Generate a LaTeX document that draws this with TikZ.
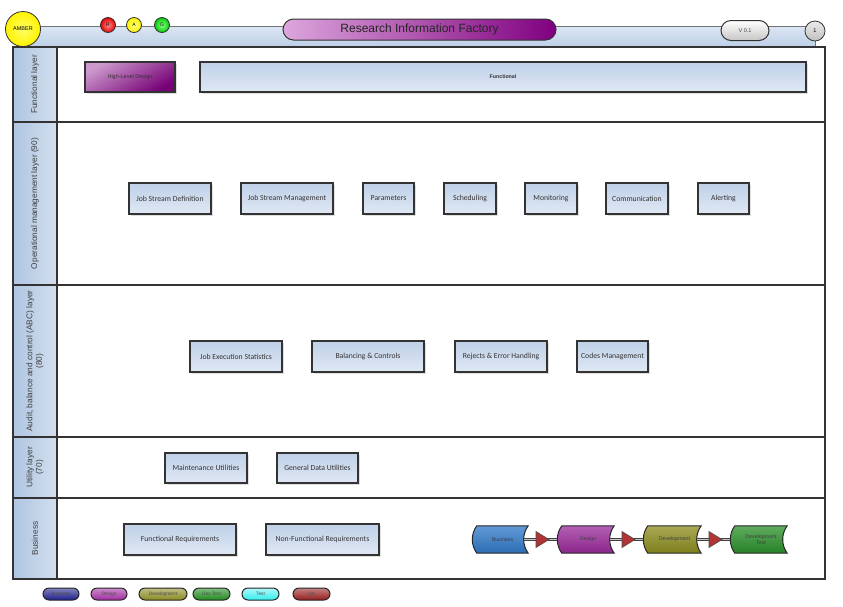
\documentclass[tikz,border=0pt]{standalone}
\usepackage{fontspec}
\setmainfont{Liberation Sans}
\newfontfamily\boxfont{Carlito}
\usepackage{xcolor}
\usepackage{tikz}
\usetikzlibrary{shapes,arrows,positioning,shadows,backgrounds,calc}

\definecolor{boxtop}{HTML}{BFD0E8}
\definecolor{boxbot}{HTML}{E0E8F4}
\definecolor{lanel}{HTML}{AFC5E1}
\definecolor{laner}{HTML}{D3DFEE}
\definecolor{bandtop}{HTML}{DCE6F3}
\definecolor{bandbot}{HTML}{BCCFE7}
\definecolor{plum}{HTML}{800080}
\definecolor{plumlight}{HTML}{DCA6DC}
\definecolor{arrred}{HTML}{B03434}
\definecolor{stbus}{HTML}{2F78C8}
\definecolor{stdes}{HTML}{9A2A9A}
\definecolor{stdev}{HTML}{8C8C1E}
\definecolor{stdvt}{HTML}{2A902A}
\definecolor{lgbus}{HTML}{1E1E8C}
\definecolor{lgdes}{HTML}{A02CA0}
\definecolor{lgdev}{HTML}{8A8A22}
\definecolor{lgdvt}{HTML}{1F8A1F}
\definecolor{lgtst}{HTML}{33EEEE}
\definecolor{lgqa}{HTML}{951C1C}

\begin{document}
\begin{tikzpicture}[x=1pt, y=-1pt,
      box/.style={draw=black!80, line width=1.3pt, top color=boxtop, bottom color=boxbot,
        minimum height=31pt, inner sep=1pt, text=black!80,
        font=\boxfont\fontsize{7.7}{9}\selectfont,
        drop shadow={opacity=0.25, shadow xshift=2pt, shadow yshift=-2pt}},
      lanelabel/.style={rotate=90, align=center, text=black!75, font=\fontsize{8.3}{9.5}\selectfont},
      frame/.style={draw=black!80, line width=1.3pt},
      dot/.style={circle, draw=black!80, line width=0.8pt, inner sep=0pt, font=\fontsize{5}{6}\selectfont},
      pill/.style={rounded rectangle, draw=black!80, line width=1pt, inner sep=1pt},
      stage/.style={minimum height=27pt, inner sep=0pt, align=center, text=black!75,
        font=\fontsize{5.3}{6}\selectfont},
      stageline/.style={draw=black!85, line width=1pt},
      link/.style={draw=black!75, line width=0.6pt, double=gray!45, double distance=1.2pt},
      tri/.style={isosceles triangle, isosceles triangle apex angle=64, isosceles triangle stretches,
        minimum width=16pt, minimum height=13pt, inner sep=0pt, fill=arrred, draw=black!70, line width=0.6pt},
      legend/.style={rounded rectangle, draw=black!85, line width=1pt, minimum height=12pt,
        inner sep=0pt, text=black!70, font=\fontsize{4.8}{5}\selectfont}
    ]
    \useasboundingbox (0,0) rectangle (843,606);

    % top bar
    \draw[draw=black!55, line width=0.8pt, top color=bandtop, bottom color=bandbot] (23,26) rectangle (815,47);
    \node[dot, minimum size=35pt, inner color=yellow!60, outer color=yellow!90!orange, font=\fontsize{5.5}{6}\selectfont] (amber) at (23,29) {AMBER};
    \node[dot, minimum size=15pt, inner color=red!45, outer color=red!90!black] (rag r) at (108,25) {R};
    \node[dot, minimum size=15pt, inner color=yellow!50, outer color=yellow!90!orange] (rag a) at (134,25) {A};
    \node[dot, minimum size=15pt, inner color=green!45, outer color=green!80!black] (rag g) at (162,25) {G};
    \node[pill, minimum width=275pt, minimum height=21pt, left color=plumlight, right color=plum,
      text=black!85, font=\fontsize{12}{13}\selectfont] (title) at (419.5,29.5) {Research Information Factory};
    \node[pill, minimum width=50pt, minimum height=20pt, top color=white, bottom color=gray!45,
      text=black!70, font=\fontsize{5.5}{6}\selectfont] (version) at (745,30.5) {V 0.1};
    \node[dot, minimum size=20pt, top color=gray!15, bottom color=gray!50, font=\fontsize{5.5}{6}\selectfont] (page) at (815,31) {1};

    % lanes
    \fill[left color=lanel, right color=laner] (13,47) rectangle (57,579);
    \draw[frame] (13,47) rectangle (825,579);
    \draw[frame] (57,47) -- (57,579);
    \draw[frame] (13,122) -- (825,122);
    \draw[frame] (13,285) -- (825,285);
    \draw[frame] (13,437) -- (825,437);
    \draw[frame] (13,498) -- (825,498);

    \node[lanelabel] (lane func) at (35,84.5) {Functional layer};
    \node[lanelabel] (lane ops) at (35,203.5) {Operational management layer (90)};
    \node[lanelabel] (lane abc) at (35,361) {Audit, balance and control (ABC) layer\\(80)};
    \node[lanelabel] (lane util) at (35,467.5) {Utility layer\\(70)};
    \node[lanelabel] (lane bus) at (35,538.5) {Business};

    % functional layer
    \node[box, minimum width=90pt, minimum height=30pt, top color=plum!40!white, bottom color=plum!92!black,
      shading angle=30, font=\fontsize{5.5}{6}\selectfont, text=black!80] (hld) at (130,77) {High-Level Design};
    \node[box, minimum width=606pt, minimum height=30pt, font=\bfseries\fontsize{5.3}{6}\selectfont] (func) at (503,77) {Functional};

    % operational management layer
    \node[box, minimum width=82pt] (jsd) at (170,198.5) {Job Stream Definition};
    \node[box, minimum width=92pt] (jsm) at (287,198.5) {Job Stream Management};
    \node[box, minimum width=51pt] (par) at (388.5,198.5) {Parameters};
    \node[box, minimum width=52pt] (sch) at (470,198.5) {Scheduling};
    \node[box, minimum width=52pt] (mon) at (551,198.5) {Monitoring};
    \node[box, minimum width=62pt] (com) at (637,198.5) {Communication};
    \node[box, minimum width=51pt] (alr) at (723.5,198.5) {Alerting};

    % audit, balance and control layer
    \node[box, minimum width=92pt] (jes) at (236,356.5) {Job Execution Statistics};
    \node[box, minimum width=112pt] (bal) at (368,356.5) {Balancing \& Controls};
    \node[box, minimum width=92pt] (rej) at (501,356.5) {Rejects \& Error Handling};
    \node[box, minimum width=71pt] (cod) at (612.5,356.5) {Codes Management};

    % utility layer
    \node[box, minimum width=82pt, minimum height=30pt] (mnt) at (206,468) {Maintenance Utilities};
    \node[box, minimum width=81pt, minimum height=30pt] (gdu) at (317.5,468) {General Data Utilities};

    % business
    \node[box, minimum width=112pt] (freq) at (180,539.5) {Functional Requirements};
    \node[box, minimum width=113pt] (nfreq) at (322.5,539.5) {Non-Functional Requirements};

    \node[stage, minimum width=51pt] (st bus) at (502.5,539.5) {Business};
    \node[stage, minimum width=52pt] (st des) at (588,539.5) {Design};
    \node[stage, minimum width=53pt] (st dev) at (674.5,539.5) {Development};
    \node[stage, minimum width=52pt] (st dvt) at (761,539.5) {Development\\Test};

    \begin{scope}[on background layer]
      \foreach \n/\c in {st bus/stbus, st des/stdes, st dev/stdev, st dvt/stdvt}
        \draw[stageline, top color=\c!75!white, bottom color=\c!90!black]
          (\n.north west) -- (\n.north east) .. controls +(-6,8) and +(-6,-8) .. (\n.south east)
          -- (\n.south west) .. controls +(-6,-8) and +(-6,8) .. (\n.north west) -- cycle;
    \end{scope}

    \draw[link] ([xshift=-4.5pt]st bus.east) -- node[tri] (tri a) {} ([xshift=-4.5pt]st des.west);
    \draw[link] ([xshift=-4.5pt]st des.east) -- node[tri] (tri b) {} ([xshift=-4.5pt]st dev.west);
    \draw[link] ([xshift=-4.5pt]st dev.east) -- node[tri] (tri c) {} ([xshift=-4.5pt]st dvt.west);

    % legend
    \node[legend, minimum width=36pt, top color=lgbus!55!white, bottom color=lgbus] (lg bus) at (61,594) {Business};
    \node[legend, minimum width=36pt, top color=lgdes!55!white, bottom color=lgdes] (lg des) at (109,594) {Design};
    \node[legend, minimum width=48pt, top color=lgdev!55!white, bottom color=lgdev] (lg dev) at (163,594) {Development};
    \node[legend, minimum width=37pt, top color=lgdvt!55!white, bottom color=lgdvt] (lg dvt) at (211.5,594) {Dev Test};
    \node[legend, minimum width=37pt, top color=lgtst!40!white, bottom color=lgtst] (lg tst) at (260.5,594) {Test};
    \node[legend, minimum width=37pt, top color=lgqa!55!white, bottom color=lgqa] (lg qa) at (311.5,594) {QA};
  \end{tikzpicture}
\end{document}
